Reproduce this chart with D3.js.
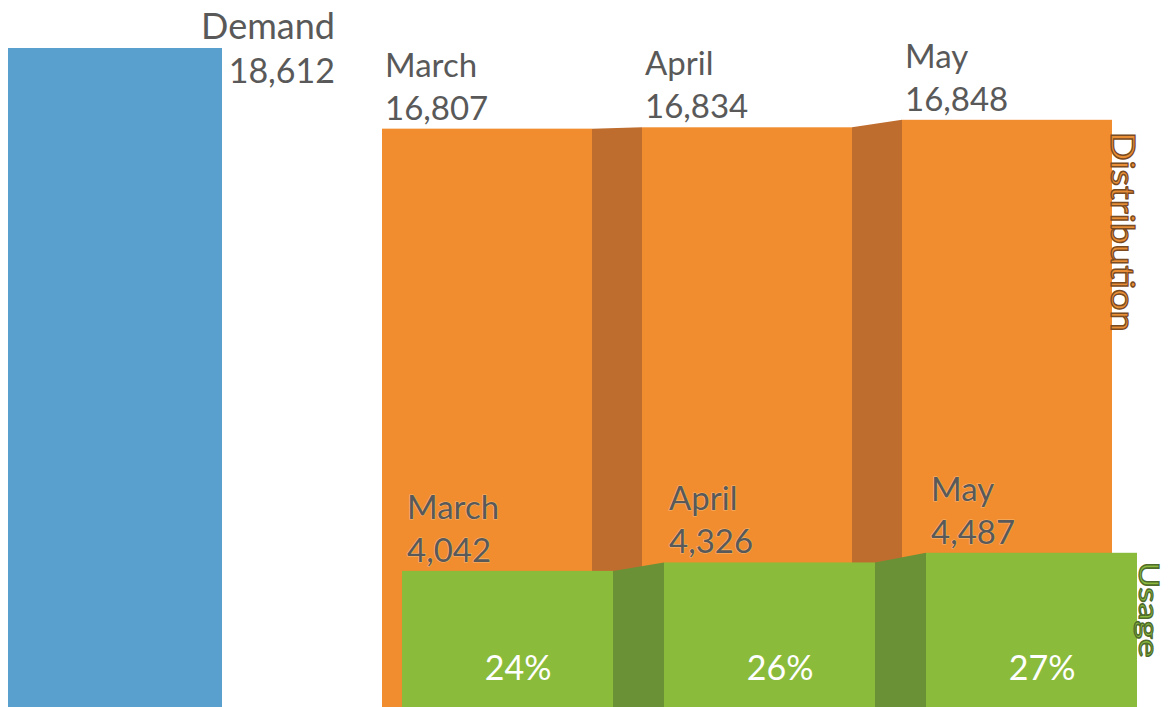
<!DOCTYPE html>
<html>
<head>
<meta charset="utf-8">
<script src="https://cdn.jsdelivr.net/npm/d3@7"></script>
<style>
  html, body { margin: 0; padding: 0; background: #ffffff; }
  svg { display: block; }
  text { font-family: Lato, "Open Sans", sans-serif; }
</style>
</head>
<body>
<svg id="chart" width="1168" height="707"></svg>
<script>
// ---- data ----
const demandLabel = "Demand";
const demandValue = 18612;
const months = ["March", "April", "May"];
const distributionValues = [16807, 16834, 16848];
const usageValues = [4042, 4326, 4487];
const distributionTitle = "Distribution";
const usageTitle = "Usage";

// ---- setup ----
const width = 1168, height = 707;
const svg = d3.select("#chart");

const colors = {
  demand: "#5AA0CF",
  dist: "#F18D2F",
  distLink: "#BF6D2F",
  usage: "#8BBB3B",
  usageLink: "#6B9136",
  text: "#595959"
};

// Tiered value scale: each tier (usage, distribution, demand) gets its own
// stretch of the axis so small month-to-month changes stay visible.
const y = d3.scaleLinear()
  .domain([4000, 4300, 4500, 16800, 16840, 16850, 18612])
  .range([572, 564, 552, 129, 127, 118, 48]);

const xDemand = d3.scaleBand().domain([demandLabel]).range([8, 222]).padding(0);
const xDist = d3.scaleBand().domain(months).range([382, 1112]).paddingInner(50 / 260).paddingOuter(0);
const xUse = d3.scaleBand().domain(months).range([402, 1137]).paddingInner(51 / 262).paddingOuter(0);

const fmt = d3.format(",");
const pct = d3.format(".0%");

// ---- demand bar ----
svg.append("rect")
  .attr("x", xDemand(demandLabel))
  .attr("y", y(demandValue))
  .attr("width", xDemand.bandwidth())
  .attr("height", height - y(demandValue))
  .attr("fill", colors.demand);

const demandRight = xDemand(demandLabel) + xDemand.bandwidth() + 113;
const demandText = svg.append("text")
  .attr("text-anchor", "end")
  .attr("fill", colors.text);
demandText.append("tspan").attr("x", demandRight)
  .attr("font-size", 36)
  .attr("y", y(demandValue) - 9).text(demandLabel);
demandText.append("tspan").attr("x", demandRight)
  .attr("font-size", 34)
  .attr("y", y(demandValue) + 35).text(fmt(demandValue));

// ---- stepped series (bars joined by sloped connectors) ----
function drawSeries(values, x, fill, linkFill) {
  const g = svg.append("g");
  const bw = x.bandwidth();
  const rows = months.map((m, i) => ({ m, v: values[i] }));
  g.selectAll("path.link")
    .data(d3.pairs(rows))
    .join("path")
    .attr("class", "link")
    .attr("fill", linkFill)
    .attr("d", ([a, b]) => {
      const x0 = x(a.m) + bw, x1 = x(b.m);
      return `M${x0},${y(a.v)}L${x1},${y(b.v)}L${x1},${height}L${x0},${height}Z`;
    });
  g.selectAll("rect.bar")
    .data(rows)
    .join("rect")
    .attr("class", "bar")
    .attr("x", d => x(d.m))
    .attr("y", d => y(d.v))
    .attr("width", bw)
    .attr("height", d => height - y(d.v))
    .attr("fill", fill);
  return g;
}

drawSeries(distributionValues, xDist, colors.dist, colors.distLink);

// distribution labels above each bar
const distLabels = svg.append("g").selectAll("text")
  .data(months.map((m, i) => ({ m, v: distributionValues[i] })))
  .join("text")
  .attr("fill", colors.text)
  .attr("font-size", 33);
distLabels.append("tspan")
  .attr("x", d => xDist(d.m) + 3)
  .attr("y", d => y(d.v) - 52)
  .text(d => d.m);
distLabels.append("tspan")
  .attr("x", d => xDist(d.m) + 3)
  .attr("y", d => y(d.v) - 9)
  .text(d => fmt(d.v));

drawSeries(usageValues, xUse, colors.usage, colors.usageLink);

// usage labels sit on the orange area, just above each green bar
const useLabels = svg.append("g").selectAll("text")
  .data(months.map((m, i) => ({ m, v: usageValues[i] })))
  .join("text")
  .attr("fill", colors.text)
  .attr("stroke", "#F7B774")
  .attr("stroke-width", 1.2)
  .attr("paint-order", "stroke")
  .attr("font-size", 33);
useLabels.append("tspan")
  .attr("x", d => xUse(d.m) + 5)
  .attr("y", d => y(d.v) - 52)
  .text(d => d.m);
useLabels.append("tspan")
  .attr("x", d => xUse(d.m) + 5)
  .attr("y", d => y(d.v) - 9)
  .text(d => fmt(d.v));

// share of distribution that was used
svg.append("g").selectAll("text")
  .data(months.map((m, i) => ({ m, share: usageValues[i] / distributionValues[i] })))
  .join("text")
  .attr("fill", "#ffffff")
  .attr("font-size", 34)
  .attr("text-anchor", "middle")
  .attr("x", d => xUse(d.m) + xUse.bandwidth() * 0.55)
  .attr("y", 680)
  .text(d => pct(d.share));

// ---- rotated series titles ----
const lastM = months[months.length - 1];
svg.append("text")
  .attr("transform", `translate(${xDist(lastM) + xDist.bandwidth() - 1},${y(distributionValues[2]) + 12}) rotate(90)`)
  .attr("font-size", 33)
  .attr("textLength", 200)
  .attr("lengthAdjust", "spacingAndGlyphs")
  .attr("fill", "#E88E36")
  .attr("stroke", "#7A4A20")
  .attr("stroke-width", 1.3)
  .text(distributionTitle);

svg.append("text")
  .attr("transform", `translate(${xUse(lastM) + xUse.bandwidth() + 2},${y(usageValues[2]) + 9}) rotate(90)`)
  .attr("font-size", 27)
  .attr("textLength", 96)
  .attr("lengthAdjust", "spacingAndGlyphs")
  .attr("fill", "#8CBB3E")
  .attr("stroke", "#4F6B2B")
  .attr("stroke-width", 1.2)
  .text(usageTitle);
</script>
</body>
</html>
